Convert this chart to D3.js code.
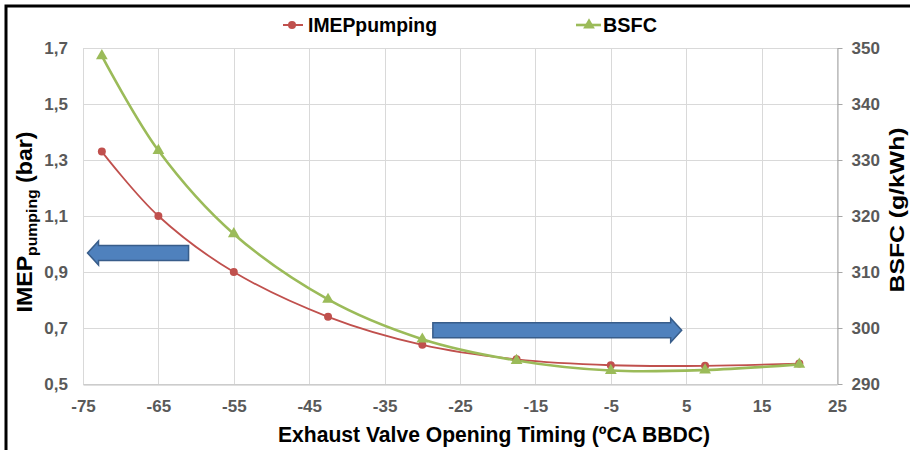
<!DOCTYPE html>
<html>
<head>
<meta charset="utf-8">
<script src="https://cdn.jsdelivr.net/npm/d3@7"></script>
<style>
  body { margin: 0; background: #fff; }
  svg { display: block; font-family: "Liberation Sans", Arial, sans-serif; font-weight: bold; }
</style>
</head>
<body>
<div id="chart"></div>
<script>
// data
var evoTiming = [-72.5, -65, -55, -42.5, -30, -17.5, -5, 7.5, 20];
var imepPumping = [1.33, 1.10, 0.90, 0.74, 0.64, 0.588, 0.567, 0.565, 0.573];
var bsfc = [348.6, 331.7, 316.8, 305.1, 298.0, 294.2, 292.4, 292.5, 293.5];

var xTicks = [-75, -65, -55, -45, -35, -25, -15, -5, 5, 15, 25];
var leftTicks = [0.5, 0.7, 0.9, 1.1, 1.3, 1.5, 1.7];
var rightTicks = [290, 300, 310, 320, 330, 340, 350];

var width = 910, height = 450;
var pLeft = 83, pRight = 837, pTop = 48, pBottom = 384;
var red = '#c0504d', green = '#9bbb59';
var tickColor = '#595959', gridColor = '#d9d9d9';

var fmt = d3.formatLocale({decimal: ",", thousands: ".", grouping: [3], currency: ["", ""]}).format(".1f");

var x = d3.scaleLinear().domain([-75, 25]).range([pLeft, pRight]);
var yl = d3.scaleLinear().domain([0.5, 1.7]).range([pBottom, pTop]);
var yr = d3.scaleLinear().domain([290, 350]).range([pBottom, pTop]);

var svg = d3.select('#chart').append('svg')
  .attr('width', width)
  .attr('height', height);

// outer frame
svg.append('rect')
  .attr('x', 6).attr('y', 6)
  .attr('width', width + 20).attr('height', height + 20)
  .attr('fill', 'none')
  .attr('stroke', '#000')
  .attr('stroke-width', 3);

// grid
svg.append('g').selectAll('line').data(leftTicks).enter().append('line')
  .attr('x1', pLeft).attr('x2', pRight)
  .attr('y1', function(d){ return Math.round(yl(d)) + 0.5; })
  .attr('y2', function(d){ return Math.round(yl(d)) + 0.5; })
  .attr('stroke', gridColor);

svg.append('g').selectAll('line').data(xTicks).enter().append('line')
  .attr('x1', function(d){ return Math.round(x(d)) + 0.5; })
  .attr('x2', function(d){ return Math.round(x(d)) + 0.5; })
  .attr('y1', pTop).attr('y2', pBottom)
  .attr('stroke', gridColor);

// bottom axis
var xAxis = svg.append('g')
  .attr('transform', 'translate(0,' + (pBottom + 0.5) + ')')
  .call(d3.axisBottom(x).tickValues(xTicks).tickSize(0).tickPadding(15)
    .tickFormat(function(d){ return String(d); }));
xAxis.select('.domain').attr('stroke', '#bfbfbf');

// left axis
var ylAxis = svg.append('g')
  .attr('transform', 'translate(' + (pLeft - 15) + ',0)')
  .call(d3.axisLeft(yl).tickValues(leftTicks).tickSize(0).tickPadding(0).tickFormat(fmt));
ylAxis.select('.domain').remove();

// right axis
var yrAxis = svg.append('g')
  .attr('transform', 'translate(' + (pRight + 0.5) + ',0)')
  .call(d3.axisRight(yr).tickValues(rightTicks).tickSize(5).tickPadding(9).tickSizeOuter(0));
yrAxis.select('.domain').attr('stroke', '#a6a6a6');
yrAxis.selectAll('.tick line').attr('stroke', '#a6a6a6');

svg.selectAll('.tick text')
  .attr('fill', tickColor)
  .style('font-size', '17px')
  .style('font-weight', 'bold')
  .style('font-family', '"Liberation Sans", Arial, sans-serif');

// series
var lineImep = d3.line()
  .x(function(d, i){ return x(evoTiming[i]); })
  .y(function(d){ return yl(d); })
  .curve(d3.curveCatmullRom.alpha(0));

var lineBsfc = d3.line()
  .x(function(d, i){ return x(evoTiming[i]); })
  .y(function(d){ return yr(d); })
  .curve(d3.curveCatmullRom.alpha(0));

svg.append('path')
  .datum(imepPumping)
  .attr('d', lineImep)
  .attr('fill', 'none')
  .attr('stroke', red)
  .attr('stroke-width', 1.8);

svg.append('path')
  .datum(bsfc)
  .attr('d', lineBsfc)
  .attr('fill', 'none')
  .attr('stroke', green)
  .attr('stroke-width', 2.6);

svg.append('g').selectAll('circle').data(imepPumping).enter().append('circle')
  .attr('cx', function(d, i){ return x(evoTiming[i]); })
  .attr('cy', function(d){ return yl(d); })
  .attr('r', 4)
  .attr('fill', red);

var tri = d3.symbol().type(d3.symbolTriangle).size(60);
svg.append('g').selectAll('path').data(bsfc).enter().append('path')
  .attr('d', tri)
  .attr('transform', function(d, i){ return 'translate(' + x(evoTiming[i]) + ',' + yr(d) + ')'; })
  .attr('fill', green);

// arrows (annotation shapes)
function arrow(x0, x1, yc, dir){
  var bh = 7.5, hh = 12, hl = 11;
  var tip = dir < 0 ? x0 : x1;
  var tail = dir < 0 ? x1 : x0;
  var neck = tip - dir * hl;
  var pts = [[tail, yc - bh], [neck, yc - bh], [neck, yc - hh], [tip, yc],
             [neck, yc + hh], [neck, yc + bh], [tail, yc + bh]];
  svg.append('path')
    .attr('d', 'M' + pts.join('L') + 'Z')
    .attr('fill', '#4f81bd')
    .attr('stroke', '#385d8a')
    .attr('stroke-width', 1.5);
}
arrow(x(-74.4), x(-61), yl(0.968), -1);
arrow(x(-28.6), x(4.4), yr(299.6), 1);

// axis titles
svg.append('text')
  .attr('x', 494).attr('y', 442)
  .attr('text-anchor', 'middle')
  .attr('textLength', 432)
  .attr('lengthAdjust', 'spacingAndGlyphs')
  .style('font-size', '22px')
  .text('Exhaust Valve Opening Timing (\u00baCA BBDC)');

var lt = svg.append('text')
  .attr('transform', 'translate(32,222) rotate(-90)')
  .attr('text-anchor', 'middle')
  .attr('textLength', 181)
  .attr('lengthAdjust', 'spacingAndGlyphs')
  .style('font-size', '22px');
lt.append('tspan').text('IMEP');
lt.append('tspan').attr('dy', 5).style('font-size', '15px').text('pumping');
lt.append('tspan').attr('dy', -5).text(' (bar)');

svg.append('text')
  .attr('transform', 'translate(904,210) rotate(-90)')
  .attr('text-anchor', 'middle')
  .attr('textLength', 165)
  .attr('lengthAdjust', 'spacingAndGlyphs')
  .style('font-size', '21px')
  .text('BSFC (g/kWh)');

// legend
var legend = svg.append('g');
legend.append('line')
  .attr('x1', 283).attr('x2', 303).attr('y1', 25).attr('y2', 25)
  .attr('stroke', red).attr('stroke-width', 2);
legend.append('circle')
  .attr('cx', 292).attr('cy', 25).attr('r', 4).attr('fill', red);
legend.append('text')
  .attr('x', 308).attr('y', 32)
  .attr('textLength', 129)
  .attr('lengthAdjust', 'spacingAndGlyphs')
  .style('font-size', '21px')
  .text('IMEPpumping');

legend.append('line')
  .attr('x1', 576).attr('x2', 601).attr('y1', 25).attr('y2', 25)
  .attr('stroke', green).attr('stroke-width', 2.6);
legend.append('path')
  .attr('d', tri)
  .attr('transform', 'translate(589,25)')
  .attr('fill', green);
legend.append('text')
  .attr('x', 603).attr('y', 32)
  .attr('textLength', 54)
  .attr('lengthAdjust', 'spacingAndGlyphs')
  .style('font-size', '21px')
  .text('BSFC');
</script>
</body>
</html>
